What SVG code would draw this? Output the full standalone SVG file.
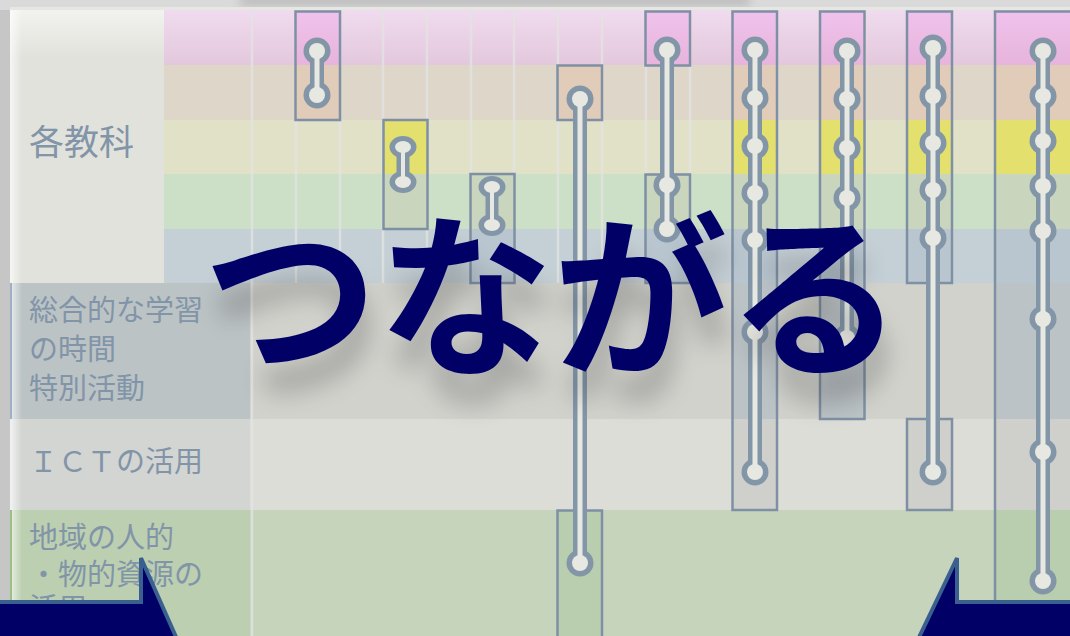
<svg xmlns="http://www.w3.org/2000/svg" width="1070" height="636" viewBox="0 0 1070 636">
<defs>
<style>
.lbl{font-family:"Noto Sans CJK JP","Noto Sans",sans-serif;fill:#8194a8;}
.box{fill:url(#hl);stroke:#7f90a4;stroke-width:2.5;}
.cd{stroke:#8396a8;stroke-width:14;fill:none;}
.cl{stroke:#e8e8e3;stroke-width:5;fill:none;}
.nd{fill:#8396a8;}
.nl{fill:#e8e8e3;}
.grid{stroke:#e4e4e4;stroke-width:2.5;opacity:0.75;}
.arrow{fill:#000066;stroke:#3a6090;stroke-width:4;stroke-linejoin:miter;}
</style>
<linearGradient id="pinkBg" x1="0" y1="0" x2="0" y2="1"><stop offset="0" stop-color="#f0dbee"/><stop offset="1" stop-color="#e3c8dc"/></linearGradient>
<linearGradient id="pinkHl" x1="0" y1="0" x2="0" y2="1"><stop offset="0" stop-color="#f2c5ef"/><stop offset="1" stop-color="#e6b4dc"/></linearGradient>
<linearGradient id="lblTop" x1="0" y1="0" x2="0" y2="1"><stop offset="0" stop-color="#f2f3ee"/><stop offset="1" stop-color="#e1e2dc"/></linearGradient>
<linearGradient id="gloss" x1="0" y1="0" x2="1" y2="0"><stop offset="0" stop-color="#ffffff" stop-opacity="0.7"/><stop offset="1" stop-color="#ffffff" stop-opacity="0"/></linearGradient>
<pattern id="hl" patternUnits="userSpaceOnUse" x="0" y="0" width="1100" height="700">
<rect x="0" y="0" width="1100" height="65" fill="url(#pinkHl)"/>
<rect x="0" y="65" width="1100" height="55" fill="#e0ccb8"/>
<rect x="0" y="120" width="1100" height="54" fill="#e3e06e"/>
<rect x="0" y="174" width="1100" height="55" fill="#c9d6bd"/>
<rect x="0" y="229" width="1100" height="54" fill="#b9c6cf"/>
<rect x="0" y="283" width="1100" height="136" fill="#bcc3c6"/>
<rect x="0" y="419" width="1100" height="91" fill="#cfd0cb"/>
<rect x="0" y="510" width="1100" height="190" fill="#b9cdaf"/>
</pattern>
<filter id="sh" x="-10%" y="-30%" width="130%" height="190%">
<feGaussianBlur in="SourceAlpha" stdDeviation="13"/>
<feOffset dx="4" dy="30" result="b"/>
<feComponentTransfer><feFuncA type="linear" slope="0.22"/></feComponentTransfer>
<feMerge><feMergeNode/><feMergeNode in="SourceGraphic"/></feMerge>
</filter>
<filter id="blur" x="-20%" y="-100%" width="140%" height="300%"><feGaussianBlur stdDeviation="5"/></filter>
</defs>

<!-- frame background -->
<rect x="0" y="0" width="1070" height="636" fill="#c6c6c6"/>
<rect x="0" y="0" width="1070" height="10" fill="#dadada"/>
<rect x="240" y="-6" width="510" height="12" fill="#9a9a9a" opacity="0.45" filter="url(#blur)"/>
<rect x="10" y="7" width="1060" height="3" fill="#e6e6e3"/>

<!-- row bands -->
<g id="rows">
<rect x="164" y="10" width="906" height="55" fill="url(#pinkBg)"/>
<rect x="164" y="65" width="906" height="55" fill="#dfd6ca"/>
<rect x="164" y="120" width="906" height="54" fill="#e1e1c8"/>
<rect x="164" y="174" width="906" height="55" fill="#cbe0c6"/>
<rect x="164" y="229" width="906" height="54" fill="#c5d0d6"/>
<rect x="10" y="283" width="1060" height="136" fill="#d1d2cc"/>
<rect x="10" y="419" width="1060" height="91" fill="#dcddd7"/>
<rect x="10" y="510" width="1060" height="126" fill="#c7d4bc"/>
</g>

<!-- label column -->
<g id="labels">
<rect x="10" y="10" width="154" height="273" fill="#e1e2dc"/>
<rect x="10" y="10" width="154" height="48" fill="url(#lblTop)"/>
<rect x="10" y="283" width="240" height="136" fill="#bcc3c5"/>
<rect x="10" y="419" width="240" height="91" fill="#d3d5d3"/>
<rect x="10" y="510" width="240" height="126" fill="#bccfb0"/>
<rect x="10" y="10" width="12" height="626" fill="url(#gloss)"/>
<rect x="10" y="283" width="2" height="136" fill="#9fb0c6"/>
<rect x="10" y="510" width="2" height="126" fill="#9cc080"/>
<text class="lbl" x="29" y="155" font-size="35">各教科</text>
<text class="lbl" x="29" y="321" font-size="29">総合的な学習</text>
<text class="lbl" x="29" y="360" font-size="29">の時間</text>
<text class="lbl" x="29" y="399" font-size="29">特別活動</text>
<text class="lbl" x="29" y="472" font-size="29">ＩＣＴの活用</text>
<text class="lbl" x="29" y="548" font-size="29">地域の人的</text>
<text class="lbl" x="29" y="585" font-size="29">・物的資源の</text>
<text class="lbl" x="29" y="619" font-size="29">活用</text>
</g>

<!-- grid lines -->
<g id="grid">
<line class="grid" x1="252" y1="10" x2="252" y2="636"/>
<line class="grid" x1="296" y1="10" x2="296" y2="283"/>
<line class="grid" x1="340" y1="10" x2="340" y2="283"/>
<line class="grid" x1="383" y1="10" x2="383" y2="283"/>
<line class="grid" x1="427" y1="10" x2="427" y2="283"/>
<line class="grid" x1="471" y1="10" x2="471" y2="283"/>
<line class="grid" x1="514" y1="10" x2="514" y2="283"/>
<line class="grid" x1="558" y1="10" x2="558" y2="283"/>
<line class="grid" x1="602" y1="10" x2="602" y2="283"/>
<line class="grid" x1="646" y1="10" x2="646" y2="283"/>
<line class="grid" x1="690" y1="10" x2="690" y2="283"/>
<line class="grid" x1="733" y1="10" x2="733" y2="283"/>
<line class="grid" x1="777" y1="10" x2="777" y2="283"/>
<line class="grid" x1="821" y1="10" x2="821" y2="283"/>
<line class="grid" x1="865" y1="10" x2="865" y2="283"/>
<line class="grid" x1="908" y1="10" x2="908" y2="283"/>
<line class="grid" x1="952" y1="10" x2="952" y2="283"/>
</g>

<!-- highlighted boxes -->
<g id="boxes">
<rect class="box" x="295.5" y="11.5" width="44.5" height="108.5"/>
<rect class="box" x="383.5" y="120" width="44" height="109"/>
<rect class="box" x="470.5" y="174" width="44" height="109"/>
<rect class="box" x="557.5" y="65.5" width="44.5" height="54.5"/>
<rect class="box" x="557.5" y="510.5" width="44.5" height="130"/>
<rect class="box" x="645.5" y="11.5" width="44.5" height="54"/>
<rect class="box" x="645.5" y="174.5" width="44.5" height="108.5"/>
<rect class="box" x="732.5" y="11.5" width="44.5" height="498.5"/>
<rect class="box" x="820" y="11.5" width="44.5" height="407.5"/>
<rect class="box" x="907" y="11.5" width="45" height="271.5"/>
<rect class="box" x="907" y="419" width="45" height="91"/>
<rect class="box" x="995" y="11.5" width="100" height="640"/>
</g>

<!-- connectors (outer) -->
<g id="connectors">
<line class="cd" x1="317" y1="51" x2="317" y2="95"/>
<line class="cd" x1="403" y1="147" x2="403" y2="182" style="stroke-width:13"/>
<line class="cd" x1="492" y1="187" x2="492" y2="225" style="stroke-width:13"/>
<line class="cd" x1="580" y1="99" x2="580" y2="563"/>
<line class="cd" x1="667" y1="50" x2="667" y2="229"/>
<line class="cd" x1="755" y1="50" x2="755" y2="472"/>
<line class="cd" x1="847" y1="51" x2="847" y2="338"/>
<line class="cd" x1="933" y1="48" x2="933" y2="472"/>
<line class="cd" x1="1043" y1="51" x2="1043" y2="581"/>
</g>

<!-- nodes -->
<g id="node1"><circle class="nd" cx="317" cy="51" r="13.5"/><circle class="nl" cx="317" cy="51" r="8"/><circle class="nd" cx="317" cy="95" r="13.5"/><circle class="nl" cx="317" cy="95" r="8"/></g>
<g id="node2"><ellipse class="nd" cx="403" cy="147" rx="13.5" ry="11"/><ellipse class="nl" cx="403" cy="147" rx="8" ry="6"/><ellipse class="nd" cx="403" cy="182" rx="13.5" ry="11"/><ellipse class="nl" cx="403" cy="182" rx="8" ry="6"/></g>
<g id="node3"><ellipse class="nd" cx="492" cy="187" rx="13.5" ry="11"/><ellipse class="nl" cx="492" cy="187" rx="8" ry="6"/><ellipse class="nd" cx="492" cy="225" rx="13.5" ry="11"/><ellipse class="nl" cx="492" cy="225" rx="8" ry="6"/></g>
<g id="node4"><circle class="nd" cx="580" cy="99" r="13.5"/><circle class="nl" cx="580" cy="99" r="8"/><circle class="nd" cx="580" cy="563" r="13.5"/><circle class="nl" cx="580" cy="563" r="8"/></g>
<g id="node5"><circle class="nd" cx="667" cy="50" r="13.5"/><circle class="nl" cx="667" cy="50" r="8"/><circle class="nd" cx="667" cy="185" r="13.5"/><circle class="nl" cx="667" cy="185" r="8"/><circle class="nd" cx="667" cy="229" r="13.5"/><circle class="nl" cx="667" cy="229" r="8"/></g>
<g id="node6"><circle class="nd" cx="755" cy="50" r="13.5"/><circle class="nl" cx="755" cy="50" r="8"/><circle class="nd" cx="755" cy="98" r="13.5"/><circle class="nl" cx="755" cy="98" r="8"/><circle class="nd" cx="755" cy="146" r="13.5"/><circle class="nl" cx="755" cy="146" r="8"/><circle class="nd" cx="755" cy="193" r="13.5"/><circle class="nl" cx="755" cy="193" r="8"/><circle class="nd" cx="755" cy="240" r="13.5"/><circle class="nl" cx="755" cy="240" r="8"/><circle class="nd" cx="755" cy="332" r="13.5"/><circle class="nl" cx="755" cy="332" r="8"/><circle class="nd" cx="755" cy="472" r="13.5"/><circle class="nl" cx="755" cy="472" r="8"/></g>
<g id="node7"><circle class="nd" cx="847" cy="51" r="13.5"/><circle class="nl" cx="847" cy="51" r="8"/><circle class="nd" cx="847" cy="99" r="13.5"/><circle class="nl" cx="847" cy="99" r="8"/><circle class="nd" cx="847" cy="148" r="13.5"/><circle class="nl" cx="847" cy="148" r="8"/><circle class="nd" cx="847" cy="198" r="13.5"/><circle class="nl" cx="847" cy="198" r="8"/><circle class="nd" cx="847" cy="338" r="13.5"/><circle class="nl" cx="847" cy="338" r="8"/></g>
<g id="node8"><circle class="nd" cx="933" cy="48" r="13.5"/><circle class="nl" cx="933" cy="48" r="8"/><circle class="nd" cx="933" cy="96" r="13.5"/><circle class="nl" cx="933" cy="96" r="8"/><circle class="nd" cx="933" cy="143" r="13.5"/><circle class="nl" cx="933" cy="143" r="8"/><circle class="nd" cx="933" cy="190" r="13.5"/><circle class="nl" cx="933" cy="190" r="8"/><circle class="nd" cx="933" cy="238" r="13.5"/><circle class="nl" cx="933" cy="238" r="8"/><circle class="nd" cx="933" cy="472" r="13.5"/><circle class="nl" cx="933" cy="472" r="8"/></g>
<g id="node9"><circle class="nd" cx="1043" cy="51" r="13.5"/><circle class="nl" cx="1043" cy="51" r="8"/><circle class="nd" cx="1043" cy="96" r="13.5"/><circle class="nl" cx="1043" cy="96" r="8"/><circle class="nd" cx="1043" cy="141" r="13.5"/><circle class="nl" cx="1043" cy="141" r="8"/><circle class="nd" cx="1043" cy="186" r="13.5"/><circle class="nl" cx="1043" cy="186" r="8"/><circle class="nd" cx="1043" cy="231" r="13.5"/><circle class="nl" cx="1043" cy="231" r="8"/><circle class="nd" cx="1043" cy="319" r="13.5"/><circle class="nl" cx="1043" cy="319" r="8"/><circle class="nd" cx="1043" cy="452" r="13.5"/><circle class="nl" cx="1043" cy="452" r="8"/><circle class="nd" cx="1043" cy="581" r="13.5"/><circle class="nl" cx="1043" cy="581" r="8"/></g>

<!-- connectors (inner light core) -->
<g id="connector-cores">
<line class="cl" x1="317" y1="51" x2="317" y2="95"/>
<line class="cl" x1="403" y1="147" x2="403" y2="182" style="stroke-width:4"/>
<line class="cl" x1="492" y1="187" x2="492" y2="225" style="stroke-width:4"/>
<line class="cl" x1="580" y1="99" x2="580" y2="563"/>
<line class="cl" x1="667" y1="50" x2="667" y2="229"/>
<line class="cl" x1="755" y1="50" x2="755" y2="472"/>
<line class="cl" x1="847" y1="51" x2="847" y2="338"/>
<line class="cl" x1="933" y1="48" x2="933" y2="472"/>
<line class="cl" x1="1043" y1="51" x2="1043" y2="581"/>
</g>

<!-- title -->
<g id="title" filter="url(#sh)">
<text x="553" y="362" text-anchor="middle" font-family="'Noto Sans CJK JP','Noto Sans',sans-serif" font-weight="bold" font-size="175" fill="#000066">つながる</text>
</g>

<!-- arrows -->
<g id="arrows">
<rect x="0" y="629" width="13" height="7" fill="#ffffff"/>
<polygon class="arrow" points="-10,602 141,602 141,558 204,700 -10,700"/>
<polygon class="arrow" points="1080,602 957,602 957,558 889,700 1080,700"/>
</g>
</svg>
